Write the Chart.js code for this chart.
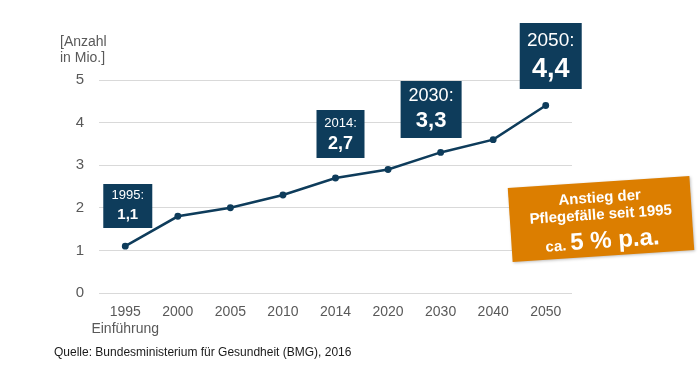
<!DOCTYPE html>
<html>
<head>
<meta charset="utf-8">
<script src="https://cdn.jsdelivr.net/npm/chart.js@4/dist/chart.umd.min.js"></script>
<style>
  html, body { margin: 0; padding: 0; background: #ffffff; }
  #wrap { position: relative; width: 700px; height: 366px; }
</style>
</head>
<body>
<div id="wrap"><canvas id="chart" width="700" height="366"></canvas></div>
<script>
// data
var years = ["1995", "2000", "2005", "2010", "2014", "2020", "2030", "2040", "2050"];
var pflegefaelle = [1.1, 1.8, 2.0, 2.3, 2.7, 2.9, 3.3, 3.6, 4.4];
var yTicks = [0, 1, 2, 3, 4, 5];
var yearNotes = ["", "", "", "", "", "", "", "", ""];
yearNotes[0] = "Einführung";

var lineBlue = "#0e3c5b";
var greyText = "#595959";
var fontName = "'Liberation Sans', Arial, sans-serif";

// which points get a dark callout box (index, box left/top relative to the point, size, font sizes)
var callouts = [
    { idx: 0, dx: -22, top: 184, w: 49, h: 44, f1: 13, f2: 15 },
    { idx: 4, dx: -19, top: 110, w: 48, h: 48, f1: 13, f2: 18 },
    { idx: 6, dx: -40, top: 81,  w: 61, h: 57, f1: 18, f2: 22 },
    { idx: 8, dx: -26, top: 23,  w: 62, h: 66, f1: 19, f2: 27 }
];

function fmt(v){
    return v.toFixed(1).replace(".", ",");
}

var xLabels = years.map(function(y, i){
    return yearNotes[i] ? [y, yearNotes[i]] : y;
});

var extras = {
    id: "extras",
    afterDraw: function(chart){
        var ctx = chart.ctx;
        var xs = chart.scales.x;
        ctx.save();

        // axis title
        ctx.fillStyle = greyText;
        ctx.font = "14px " + fontName;
        ctx.textAlign = "left";
        ctx.textBaseline = "middle";
        ctx.fillText("[Anzahl", 60, 42);
        ctx.fillText("in Mio.]", 60, 58);

        // source
        ctx.fillStyle = "#1a1a1a";
        ctx.font = "12px " + fontName;
        ctx.fillText("Quelle: Bundesministerium für Gesundheit (BMG), 2016", 54, 353);

        // callout boxes
        for (var i = 0; i < callouts.length; i++){
            var c = callouts[i];
            var px = xs.getPixelForValue(c.idx);
            var left = px + c.dx;
            ctx.fillStyle = lineBlue;
            ctx.fillRect(left, c.top, c.w, c.h);
            ctx.fillStyle = "#ffffff";
            ctx.textAlign = "center";
            ctx.textBaseline = "middle";
            ctx.font = c.f1 + "px " + fontName;
            ctx.fillText(years[c.idx] + ":", left + c.w / 2, c.top + c.h * 0.27);
            ctx.font = "bold " + c.f2 + "px " + fontName;
            ctx.fillText(fmt(pflegefaelle[c.idx]), left + c.w / 2, c.top + c.h * 0.7);
        }

        // orange growth box
        ctx.translate(601, 219);
        ctx.rotate(-3.8 * Math.PI / 180);
        ctx.fillStyle = "#dc7e00";
        ctx.shadowColor = "rgba(0,0,0,0.25)";
        ctx.shadowBlur = 3;
        ctx.shadowOffsetX = 1;
        ctx.shadowOffsetY = 1;
        ctx.fillRect(-91, -37, 182, 74);
        ctx.shadowColor = "transparent";
        ctx.fillStyle = "#ffffff";
        ctx.textAlign = "center";
        ctx.textBaseline = "middle";
        ctx.font = "bold 15px " + fontName;
        ctx.fillText("Anstieg der", 0, -21);
        ctx.fillText("Pflegefälle seit 1995", 0, -4);
        var small = "ca. ";
        var big = "5 % p.a.";
        ctx.font = "bold 15px " + fontName;
        var w1 = ctx.measureText(small).width;
        ctx.font = "bold 24px " + fontName;
        var w2 = ctx.measureText(big).width;
        var start = -(w1 + w2) / 2;
        ctx.textAlign = "left";
        ctx.textBaseline = "alphabetic";
        ctx.font = "bold 15px " + fontName;
        ctx.fillText(small, start, 29);
        ctx.font = "bold 24px " + fontName;
        ctx.fillText(big, start + w1, 29);
        ctx.restore();
    }
};

new Chart(document.getElementById("chart"), {
    type: "line",
    data: {
        labels: xLabels,
        datasets: [{
            data: pflegefaelle,
            borderColor: lineBlue,
            backgroundColor: lineBlue,
            borderWidth: 2.5,
            pointRadius: 2.2,
            pointHoverRadius: 2.2,
            tension: 0,
            fill: false
        }]
    },
    options: {
        responsive: false,
        animation: false,
        events: [],
        layout: { padding: { top: 80, right: 128, left: 0, bottom: 0 } },
        plugins: {
            legend: { display: false },
            tooltip: { enabled: false }
        },
        scales: {
            x: {
                offset: true,
                grid: { display: false },
                border: { display: false },
                ticks: {
                    color: greyText,
                    font: { family: fontName, size: 14 },
                    padding: 3,
                    maxRotation: 0,
                    autoSkip: false
                },
                afterFit: function(scale){ scale.height = 73; }
            },
            y: {
                min: 0,
                max: 5,
                afterBuildTicks: function(scale){
                    scale.ticks = yTicks.map(function(v){ return { value: v }; });
                },
                grid: { color: "#d9d9d9", lineWidth: 1, drawTicks: false },
                border: { display: false },
                ticks: {
                    color: greyText,
                    font: { family: fontName, size: 15 },
                    padding: 15
                },
                afterFit: function(scale){ scale.width = 99; }
            }
        }
    },
    plugins: [extras]
});
</script>
</body>
</html>
